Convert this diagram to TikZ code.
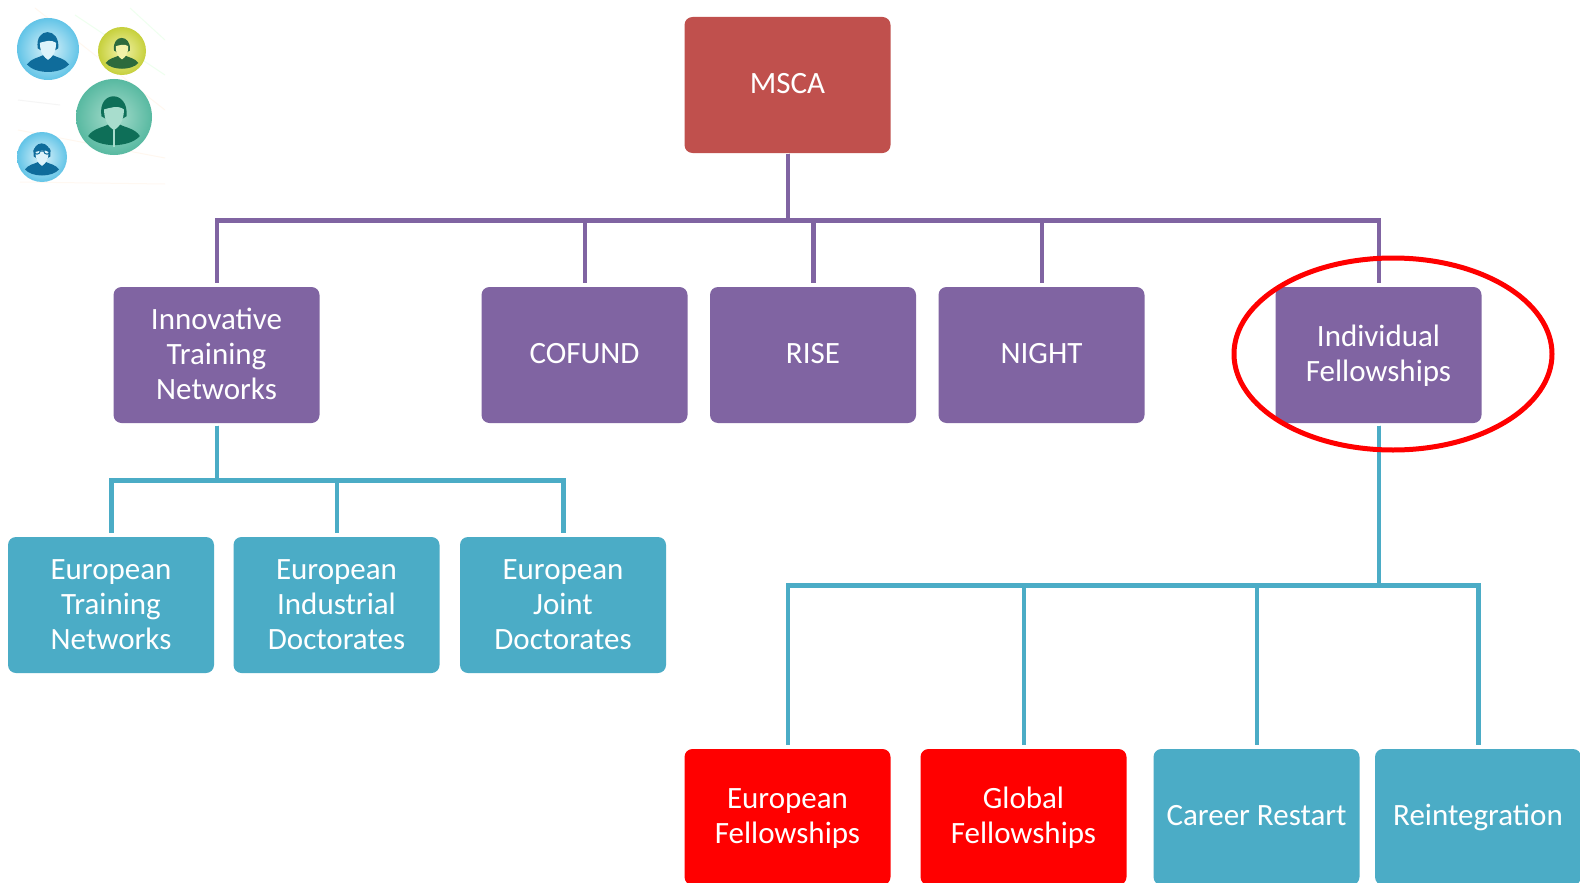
\documentclass[tikz,border=0pt]{standalone}
\usepackage{fontspec}
\usetikzlibrary{shapes.geometric}
\setmainfont{Carlito}
\definecolor{mscared}{HTML}{C0504D}
\definecolor{purp}{HTML}{8064A2}
\definecolor{teal2}{HTML}{4BACC6}
\definecolor{pure}{HTML}{FF0000}
\definecolor{bluein}{HTML}{DDF3FA}
\definecolor{blueout}{HTML}{62C4E7}
\definecolor{bluedk}{HTML}{0F6C9B}
\definecolor{yelin}{HTML}{F2F2A8}
\definecolor{yelout}{HTML}{C6D03C}
\definecolor{yeldk}{HTML}{2C6A3C}
\definecolor{grnin}{HTML}{A8DDCD}
\definecolor{grnout}{HTML}{58B9A1}
\definecolor{grndk}{HTML}{0E6F58}
\newcommand{\myperson}[6]{%
  \begin{scope}[shift={(#1,#2)},x=#3pt,y=-#3pt]
    \shade[inner color=#4,outer color=#5] (0,0) circle (1);
    \fill[#6] (-.68,.5) .. controls (-.55,.3) and (-.3,.28) .. (-.16,.2) -- (0,.36) -- (.16,.2)
      .. controls (.3,.28) and (.55,.3) .. (.68,.5) .. controls (.4,.82) and (-.4,.82) .. (-.68,.5) -- cycle;
    \fill[#6] (-.33,-.02) .. controls (-.44,-.72) and (.4,-.72) .. (.33,-.02) -- (.2,.06) -- (-.2,.06) -- cycle;
    \fill[#4] (-.26,-.2) .. controls (-.1,-.24) and (.1,-.32) .. (.26,-.2)
      .. controls (.27,.12) and (.1,.3) .. (0,.34) .. controls (-.1,.3) and (-.27,.12) .. (-.26,-.2) -- cycle;
  \end{scope}}
% balanced top and bottom rules fix the first baseline of each label
\newcommand{\tl}{\vrule height 33pt depth 0pt width 0pt\relax}
\newcommand{\bl}{\vrule height 0pt depth 14.4pt width 0pt\relax}
\newcommand{\tlone}{\vrule height 28pt depth 0pt width 0pt\relax}
\newcommand{\blone}{\vrule height 0pt depth 10.4pt width 0pt\relax}
\tikzset{
  x=1pt,y=-1pt,
  box/.style={rounded corners=8pt,inner sep=0pt,minimum width=206pt,minimum height=136pt,
    text=white,align=center,font=\fontsize{31}{34.8}\selectfont},
  purplebox/.style={box,fill=purp},
  tealbox/.style={box,fill=teal2},
  redbox/.style={box,fill=pure},
  pconn/.style={draw=purp,line width=4.5pt,shorten >=4pt,line join=miter,transform canvas={xshift=.6pt,yshift=-.5pt}},
  tconn/.style={draw=teal2,line width=4.5pt,shorten >=4pt,shorten <=2pt,line join=miter,transform canvas={xshift=.6pt,yshift=-.5pt}},
  streak/.style={line width=1pt,opacity=.5}
}
\begin{document}
\begin{tikzpicture}
\clip (0,0) rectangle (1580,883);
\fill[white] (0,0) rectangle (1580,883);
% background streaks of the small picture
\draw[streak,draw=orange!12] (35,8) -- (165,110);
\draw[streak,draw=green!12] (75,15) -- (165,75);
\draw[streak,draw=gray!15] (18,100) -- (60,105);
\draw[streak,draw=orange!12] (18,130) -- (165,158);
\draw[streak,draw=green!12] (130,8) -- (165,40);
\draw[streak,draw=orange!10] (20,182) -- (165,184);
% people
\myperson{48}{49}{31}{bluein}{blueout}{bluedk}
\myperson{122}{51}{24}{yelin}{yelout}{yeldk}
\myperson{114}{117}{38}{grnin}{grnout}{grndk}
\draw[grnin,line width=1.2pt] (114,130) -- (114,147);
\myperson{42}{157}{25}{bluein}{blueout}{bluedk}
\draw[bluedk,line width=1pt] (37,151) circle (3.2) (47,151) circle (3.2) (40.2,151) -- (43.8,151);
% boxes
\node[box,fill=mscared] (msca) at (787.5,85) {\tlone MSCA\blone};
\node[purplebox] (itn) at (216.5,355) {\tl Innovative\\Training\\Networks\bl};
\node[purplebox] (cofund) at (584.5,355) {\tlone COFUND\blone};
\node[purplebox] (rise) at (813,355) {\tlone RISE\blone};
\node[purplebox] (night) at (1041.5,355) {\tlone NIGHT\blone};
\node[purplebox] (indiv) at (1378.5,355) {\tl Individual\\Fellowships\bl};
\node[tealbox] (etn) at (111,605) {\tl European\\Training\\Networks\bl};
\node[tealbox] (eid) at (336.5,605) {\tl European\\Industrial\\Doctorates\bl};
\node[tealbox] (ejd) at (563,605) {\tl European\\Joint\\Doctorates\bl};
\node[redbox] (ef) at (787.5,817) {\tl European\\Fellowships\bl};
\node[redbox] (gf) at (1023.5,817) {\tl Global\\Fellowships\bl};
\node[tealbox] (cr) at (1256.5,817) {\tlone Career Restart\blone};
\node[tealbox] (re) at (1478,817) {\tlone Reintegration\blone};
% bus levels
\coordinate (bustop) at (787.5,220);
\coordinate (busitn) at (216.5,480);
\coordinate (busind) at (1378.5,585);
% connectors
\foreach \c in {itn,cofund,rise,night,indiv}
  \draw[pconn] (msca.south) |- (bustop) -| (\c.north);
\foreach \c in {etn,eid,ejd}
  \draw[tconn] (itn.south) |- (busitn) -| (\c.north);
\foreach \c in {ef,gf,cr,re}
  \draw[tconn] (indiv.south) |- (busind) -| (\c.north);
% highlight
\node[draw=pure,line width=5pt,ellipse,minimum width=318pt,minimum height=192pt,inner sep=0pt] (ring) at (1393,354) {};
\end{tikzpicture}
\end{document}
